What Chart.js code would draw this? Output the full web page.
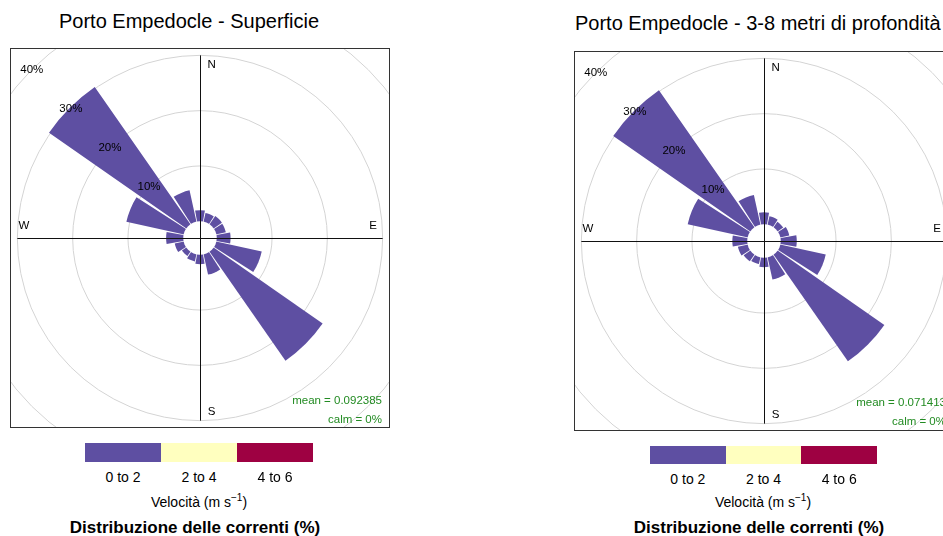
<!DOCTYPE html>
<html><head><meta charset="utf-8">
<script src="https://cdn.jsdelivr.net/npm/chart.js@4/dist/chart.umd.min.js"></script>
<style>
html,body{margin:0;padding:0;width:943px;height:536px;overflow:hidden;background:#fff;font-family:"Liberation Sans",Arial,sans-serif;color:#000;}
.box{position:absolute;width:380px;height:380px;box-sizing:border-box;border:1px solid #333;overflow:hidden;}
.box canvas{position:absolute;left:-91px;top:-91px;}
.t{position:absolute;white-space:nowrap;line-height:1;}
.sw{position:absolute;}
sup{font-size:10px;vertical-align:6px;line-height:0;}
</style></head>
<body>
<script>
// ---- data ----
const directions = ['N','NNE','NE','ENE','E','ESE','SE','SSE','S','SSW','SW','WSW','W','WNW','NW','NNW'];
const superficie = [2.0,1.6,1.8,1.75,2.5,8.4,24.0,3.75,1.7,1.3,0.95,1.65,3.1,10.6,30.25,5.8];
const profondita = [2.15,1.55,1.2,1.65,2.9,8.4,23.5,4.1,1.7,1.25,1.45,1.8,2.7,11.1,30.2,5.5];
const ringTicks = [10,20,30,40];
const speedBins = ['0 to 2','2 to 4','4 to 6'];
const binColours = ['#5E4FA2','#FFFFBF','#9E0142'];
const compassLabels = ['N','E','S','W'];
const titles = ['Porto Empedocle - Superficie','Porto Empedocle - 3-8 metri di profondità'];
const means = ['mean = 0.092385','mean = 0.071413'];
const calms = ['calm = 0%','calm = 0%'];
const legendTitle = 'Velocità (m s<sup>−1</sup>)';
const bottomTitle = 'Distribuzione delle correnti (%)';

// ---- layout ----
const layouts = [
  {boxL:10, boxT:48, titleL:59, titleCy:20.7, statR:382, meanCy:401, calmCy:419.5, barL:85, barT:443, barW:228, barH:19, labCy:477, velCx:199, velCy:502, distCx:195, distCy:527},
  {boxL:574, boxT:51, titleL:575, titleCy:22.7, statR:946, meanCy:403, calmCy:421.5, barL:650, barT:445.5, barW:227, barH:18.5, labCy:478.5, velCx:763, velCy:502, distCx:759, distCy:527}
];
const SEG = 20.25, GAP = 2.25, OFFSET = -3.03, CANVAS = 560, PX_PER_UNIT = 5.53;

function text(html, x, y, css, anchor){
  const d = document.createElement('div');
  d.className = 't';
  d.innerHTML = html;
  d.style.left = x + 'px'; d.style.top = y + 'px';
  d.style.transform = anchor || 'translate(-50%,-50%)';
  Object.assign(d.style, css || {});
  document.body.appendChild(d);
  return d;
}

const overlay = {
  id:'roseOverlay',
  afterDatasetsDraw(chart){
    const s = chart.scales.r, ctx = chart.ctx;
    const cx = s.xCenter, cy = s.yCenter;
    ctx.save();
    ctx.fillStyle = '#fff';
    ctx.beginPath(); ctx.arc(cx, cy, s.getDistanceFromCenterForValue(0), 0, Math.PI*2); ctx.fill();
    const L = s.getDistanceFromCenterForValue(30);
    ctx.strokeStyle = '#111'; ctx.lineWidth = 1;
    ctx.beginPath();
    ctx.moveTo(cx+0.5, cy-L); ctx.lineTo(cx+0.5, cy+L);
    ctx.moveTo(cx-L, cy+0.5); ctx.lineTo(cx+L, cy+0.5);
    ctx.stroke();
    ctx.fillStyle = '#000';
    ctx.font = '11.5px "Liberation Sans", Arial, sans-serif';
    ctx.textAlign = 'center'; ctx.textBaseline = 'middle';
    ringTicks.forEach(v => {
      const d = s.getDistanceFromCenterForValue(v) * Math.SQRT1_2;
      ctx.fillText(v + '%', cx - d, cy - d);
    });
    const off = [[11.7,-173],[173,-12],[11.7,174],[-176,-12]];
    compassLabels.forEach((t,i) => ctx.fillText(t, cx + off[i][0], cy + off[i][1]));
    ctx.restore();
  }
};

[superficie, profondita].forEach((vals, k) => {
  const L = layouts[k];
  text(titles[k], L.titleL, L.titleCy, {fontSize:'20px'}, 'translate(0,-50%)');
  const box = document.createElement('div');
  box.className = 'box';
  box.style.left = L.boxL + 'px'; box.style.top = L.boxT + 'px';
  const cv = document.createElement('canvas');
  cv.width = CANVAS; cv.height = CANVAS;
  cv.style.width = CANVAS + 'px'; cv.style.height = CANVAS + 'px';
  box.appendChild(cv);
  document.body.appendChild(box);

  const data = [], labels = [];
  vals.forEach((v,i) => { data.push(v); labels.push(directions[i]); data.push(0); labels.push(''); });

  new Chart(cv, {
    type:'polarArea',
    data:{ labels, datasets:[{
      data,
      backgroundColor: c => c.dataIndex % 2 === 0 ? binColours[0] : 'rgba(0,0,0,0)',
      borderWidth:0,
      angle: c => c.dataIndex % 2 === 0 ? SEG : GAP
    }]},
    options:{
      responsive:false, animation:false, devicePixelRatio:1,
      layout:{padding:0},
      plugins:{legend:{display:false}, tooltip:{enabled:false}},
      scales:{ r:{
        min: OFFSET, max: OFFSET + (CANVAS/2)/PX_PER_UNIT,
        startAngle: -SEG/2,
        afterBuildTicks: s => { s.ticks = ringTicks.map(v => ({value:v})); },
        grid:{circular:true, color:'#d4d4d4', lineWidth:1},
        angleLines:{display:false},
        pointLabels:{display:false},
        ticks:{display:false}
      }}
    },
    plugins:[overlay]
  });

  // stats
  text(means[k], L.statR, L.meanCy, {fontSize:'11.5px', color:'#228B22'}, 'translate(-100%,-50%)');
  text(calms[k], L.statR, L.calmCy, {fontSize:'11.5px', color:'#228B22'}, 'translate(-100%,-50%)');

  // legend bar
  const w = L.barW / speedBins.length;
  speedBins.forEach((b,i) => {
    const sw = document.createElement('div');
    sw.className = 'sw';
    Object.assign(sw.style, {left:(L.barL + i*w)+'px', top:L.barT+'px', width:w+'px', height:L.barH+'px', background:binColours[i]});
    document.body.appendChild(sw);
    text(b, L.barL + (i+0.5)*w, L.labCy, {fontSize:'14px'});
  });
  text(legendTitle, L.velCx, L.velCy, {fontSize:'14px'});
  text(bottomTitle, L.distCx, L.distCy, {fontSize:'17px', fontWeight:'bold'});
});
</script>
</body></html>
